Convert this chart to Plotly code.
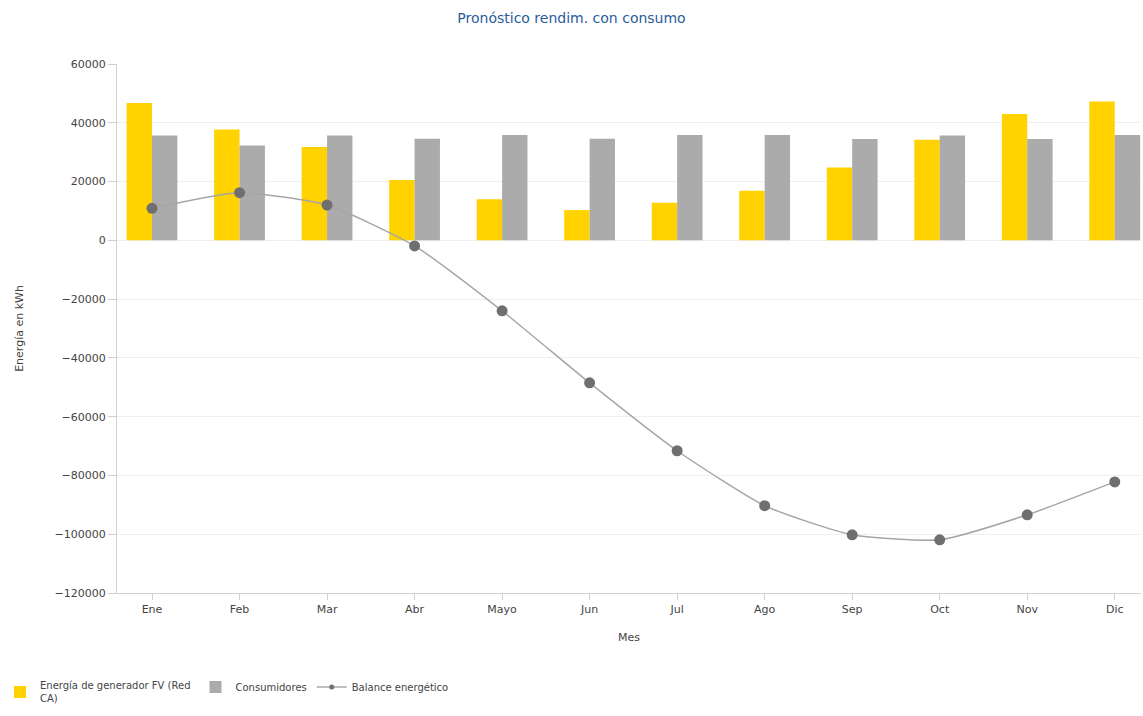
import plotly.graph_objects as go

months = ["Ene", "Feb", "Mar", "Abr", "Mayo", "Jun", "Jul", "Ago", "Sep", "Oct", "Nov", "Dic"]
generador = [46700, 37700, 31800, 20500, 14000, 10300, 12800, 16900, 24800, 34200, 43000, 47200]
consumidores = [35700, 32300, 35700, 34600, 35800, 34600, 35800, 35800, 34500, 35700, 34500, 35800]
balance = [10900, 16200, 12000, -1900, -24000, -48500, -71600, -90300, -100200, -101900, -93400, -82200]
y_ticks = [60000, 40000, 20000, 0, -20000, -40000, -60000, -80000, -100000, -120000]

font_family = "DejaVu Sans, Verdana, sans-serif"

fig = go.Figure()
fig.add_trace(go.Bar(
    x=months, y=generador, name="Energía de generador FV (Red<br>CA)",
    marker=dict(color="#FFD200", line=dict(width=0)),
))
fig.add_trace(go.Bar(
    x=months, y=consumidores, name="Consumidores",
    marker=dict(color="#ABABAB", line=dict(width=0)),
))
fig.add_trace(go.Scatter(
    x=months, y=balance, name="Balance energético", mode="lines+markers",
    line=dict(color="#A6A6A6", width=1.5, shape="spline", smoothing=0.55),
    marker=dict(color="#6F6F6F", size=11),
    showlegend=False, legendgroup="bal",
))
# legend entry with a small marker, as in the reference legend
fig.add_trace(go.Scatter(
    x=[None], y=[None], name="Balance energético", mode="lines+markers",
    line=dict(color="#808080", width=1),
    marker=dict(color="#6F6F6F", size=5),
    legendgroup="bal",
))

fig.update_layout(
    width=1143, height=716,
    margin=dict(l=117, r=2, t=64, b=123),
    paper_bgcolor="white", plot_bgcolor="white",
    barmode="group", bargap=0.42, bargroupgap=0,
    font=dict(family=font_family, size=11, color="#444444"),
    title=dict(text="Pronóstico rendim. con consumo", x=0.5, xanchor="center",
               y=1 - 18 / 716, yanchor="middle", yref="container",
               font=dict(family=font_family, size=14, color="#2A5C9A")),
    showlegend=True,
    legend=dict(orientation="h", xref="container", yref="container",
                x=0.0, xanchor="left", y=1 - 692 / 716, yanchor="middle",
                font=dict(size=10, color="#444444"), traceorder="normal",
                itemwidth=30, bgcolor="rgba(0,0,0,0)"),
)
fig.update_xaxes(
    type="category", range=[-0.4, 11.3],
    showline=True, linecolor="#D0D0D0", linewidth=1,
    ticks="outside", ticklen=6, tickcolor="#D0D0D0",
    showgrid=False, zeroline=False,
    title=dict(text="Mes", standoff=18, font=dict(size=11, color="#444444")),
)
fig.update_yaxes(
    range=[-120000, 60000], tickvals=y_ticks, tickformat="d",
    showline=True, linecolor="#D0D0D0", linewidth=1,
    ticks="outside", ticklen=8, tickcolor="#D0D0D0",
    showgrid=True, gridcolor="#EFEFEF", gridwidth=1, zeroline=False,
    title=dict(text="Energía en kWh", standoff=28, font=dict(size=11, color="#444444")),
)

fig.write_html("out.html")
